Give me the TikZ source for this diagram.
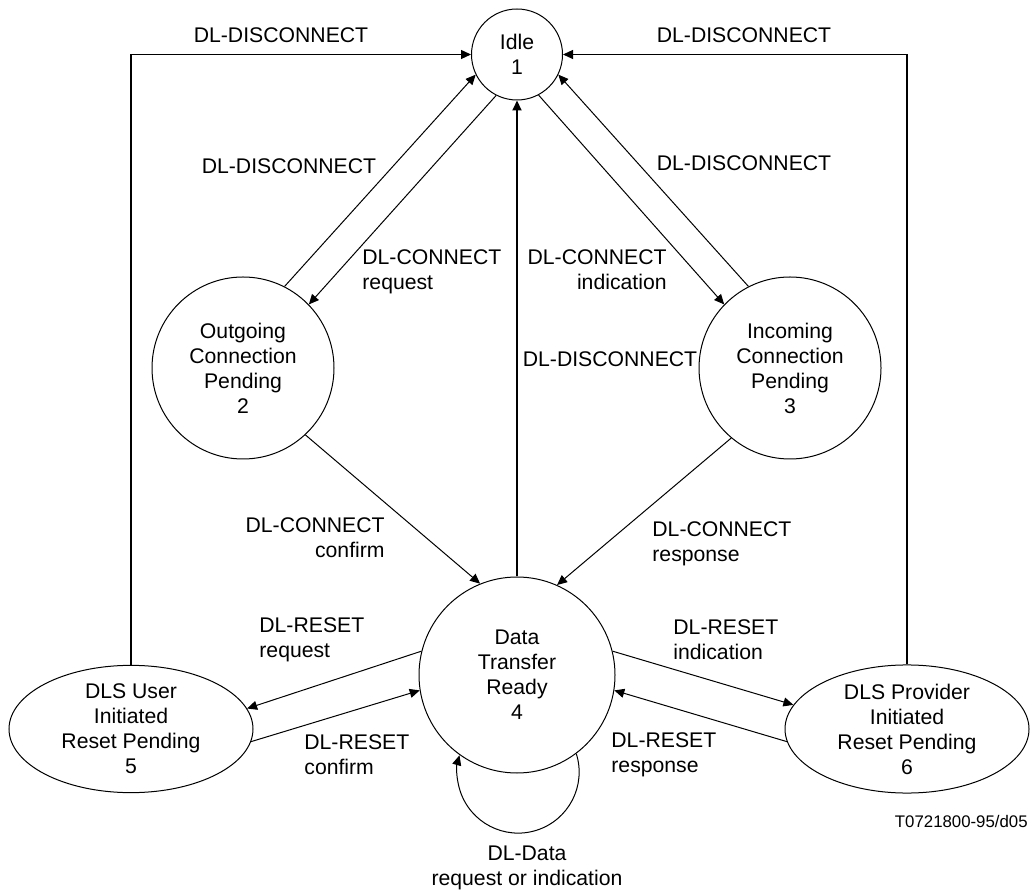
\documentclass[tikz,border=0pt]{standalone}
\usepackage{fontspec}
\setmainfont{Liberation Sans}
\usetikzlibrary{arrows.meta,shapes.geometric}
\tikzset{
  state/.style={draw,circle,line width=0.5pt,inner sep=0pt,align=center,font=\fontsize{10.6}{12.5}\selectfont},
  resetstate/.style={draw,ellipse,line width=0.5pt,inner sep=0pt,minimum width=122pt,minimum height=61pt,align=center,font=\fontsize{10.6}{12.5}\selectfont},
  trans/.style={-{Triangle[length=5pt,width=4.5pt]},line width=0.5pt},
  lbl/.style={inner sep=0pt,font=\fontsize{10.6}{12.5}\selectfont}
}

\begin{document}
\begin{tikzpicture}[x=1pt,y=1pt]
  \useasboundingbox (0,0) rectangle (516,447);
  \node[state,minimum size=45.5pt] (idle) at (258.5,419.75) {Idle\\1};
  \node[state,minimum size=91pt] (outgoing) at (121.5,263) {Outgoing\\Connection\\Pending\\2};
  \node[state,minimum size=91pt] (incoming) at (395,263) {Incoming\\Connection\\Pending\\3};
  \node[state,minimum size=98pt] (ready) at (258.5,109.5) {Data\\Transfer\\Ready\\4};
  \node[resetstate] (userreset) at (65.5,82.5) {DLS User\\Initiated\\Reset Pending\\5};
  \node[resetstate] (provreset) at (453.5,82.5) {DLS Provider\\Initiated\\Reset Pending\\6};

  \draw[trans,line width=0.6pt] (userreset.north) |- (idle.west);
  \draw[trans,line width=0.6pt] (provreset.north) |- (idle.east);
  \draw[trans] (outgoing.63) -- (idle.206);
  \draw[trans] (idle.243) -- (outgoing.44);
  \draw[trans] (idle.298) -- (incoming.136);
  \draw[trans] (incoming.117) -- (idle.334);
  \draw[trans,line width=1pt] (ready.north) -- (idle.south);
  \draw[trans] (outgoing.-47) -- (ready.112);
  \draw[trans] (incoming.230) -- (ready.66.5);
  \draw[trans] (ready.166.7) -- (userreset.10.9);
  \draw[trans] (userreset.-6.2) -- (ready.189.8);
  \draw[trans] (ready.14.7) -- (provreset.168.1);
  \draw[trans] (provreset.186.2) -- (ready.-9.7);
  \draw[trans] (ready.-53) arc[start angle=17.6,end angle=-196,radius=30.5];

  \node[lbl] (l1) at (140.5,429.5) {DL-DISCONNECT};
  \node[lbl] (l2) at (372,429.5) {DL-DISCONNECT};
  \node[lbl] (l3) at (144.5,364) {DL-DISCONNECT};
  \node[lbl,anchor=west,align=left] (l4) at (181,311) {DL-CONNECT\\request};
  \node[lbl] (l5) at (372,365.5) {DL-DISCONNECT};
  \node[lbl,anchor=east,align=right] (l6) at (333.5,312) {DL-CONNECT\\indication};
  \node[lbl] (l7) at (305,267.5) {DL-DISCONNECT};
  \node[lbl,anchor=east,align=right] (l8) at (192.5,178) {DL-CONNECT\\confirm};
  \node[lbl,anchor=west,align=left] (l9) at (326,175) {DL-CONNECT\\response};
  \node[lbl,anchor=west,align=left] (l10) at (129.5,127) {DL-RESET\\request};
  \node[lbl,anchor=west,align=left] (l11) at (152,69.5) {DL-RESET\\confirm};
  \node[lbl,anchor=west,align=left] (l12) at (336.5,127) {DL-RESET\\indication};
  \node[lbl,anchor=west,align=left] (l13) at (305.5,69.5) {DL-RESET\\response};
  \node[lbl,align=center] (l14) at (263.5,13) {DL-Data\\request or indication};
  \node[lbl,anchor=east,font=\fontsize{8.4}{10}\selectfont] (ref) at (514,36.5) {T0721800-95/d05};
\end{tikzpicture}
\end{document}
